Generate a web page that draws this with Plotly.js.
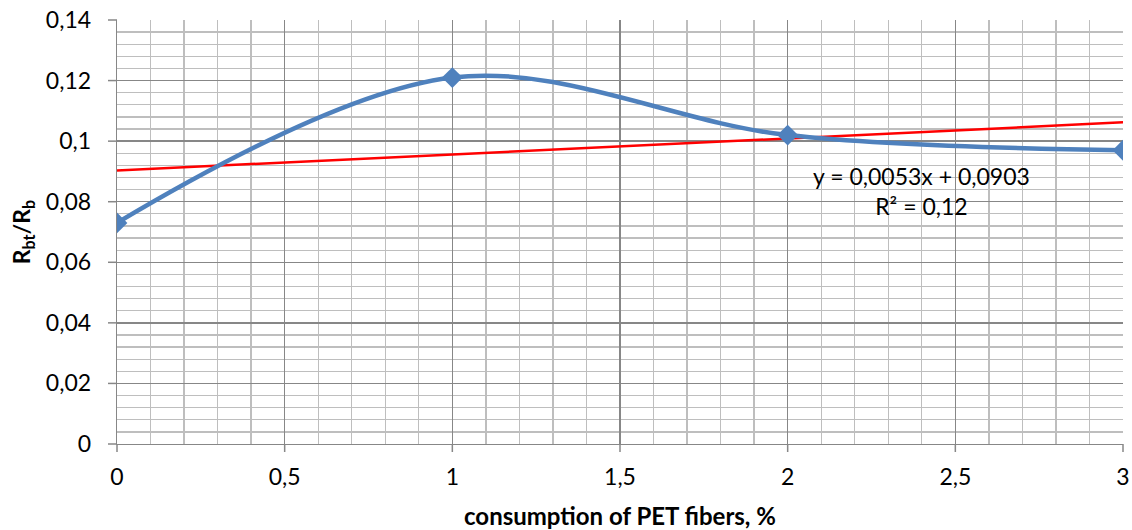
<!DOCTYPE html>
<html>
<head>
<meta charset="utf-8">
<script src="https://cdn.plot.ly/plotly-3.0.1.min.js"></script>
<style>html,body{margin:0;padding:0;background:#fff;}#chart{width:1132px;height:530px;}</style>
</head>
<body>
<div id="chart"></div>
<script>
const fiberPct = [0, 1, 2, 3];
const ratio = [0.073, 0.121, 0.102, 0.097];
const trendX = [0, 3];
const trendY = [0.0903, 0.1062];
const trendLabel = 'y = 0,0053x + 0,0903<br>R² = 0,12';
const xTitle = 'consumption of PET fibers, %';
const yTitle = 'R<sub>bt</sub>/R<sub>b</sub>';
const xTickVals = [0, 0.5, 1, 1.5, 2, 2.5, 3];
const yTickVals = [0, 0.02, 0.04, 0.06, 0.08, 0.1, 0.12, 0.14];

const font = 'Lato, "Open Sans", "Liberation Sans", sans-serif';
const axisGray = '#878787';
const xRange = [0, 3];
const yRange = [0, 0.14];

const traces = [
  {
    x: trendX, y: trendY, mode: 'lines', type: 'scatter',
    line: {color: '#FF0000', width: 2.5}, hoverinfo: 'skip', showlegend: false
  },
  {
    x: fiberPct, y: ratio, mode: 'lines+markers', type: 'scatter',
    line: {color: '#4F81BD', width: 4.5, shape: 'spline', smoothing: 1},
    marker: {symbol: 'diamond', size: 16, color: '#4F81BD'},
    showlegend: false
  }
];

// outside tick marks as paper-referenced shapes (paper refs are not clipped)
const plotW = 1132 - 117 - 9, plotH = 530 - 20 - 86;
const tickShapes = [];
yTickVals.forEach(v => {
  const p = (v - yRange[0]) / (yRange[1] - yRange[0]);
  tickShapes.push({
    type: 'line', xref: 'paper', yref: 'paper',
    x0: -9 / plotW, x1: 0, y0: p, y1: p, line: {color: axisGray, width: 1.5}, layer: 'above'
  });
});
xTickVals.forEach(v => {
  const p = (v - xRange[0]) / (xRange[1] - xRange[0]);
  tickShapes.push({
    type: 'line', xref: 'paper', yref: 'paper',
    y0: -8 / plotH, y1: 0, x0: p, x1: p, line: {color: axisGray, width: 1.5}, layer: 'above'
  });
});

const layout = {
  width: 1132, height: 530,
  margin: {l: 117, r: 9, t: 20, b: 86},
  paper_bgcolor: '#fff', plot_bgcolor: '#fff',
  separators: ', ',
  font: {family: font, color: '#000', size: 23},
  xaxis: {
    range: xRange, tickvals: xTickVals,
    showgrid: true, gridcolor: axisGray, gridwidth: 1.3,
    minor: {dtick: 0.1, tick0: 0, showgrid: true, gridcolor: '#BEBEBE', gridwidth: 1.3},
    ticks: '', ticklabelstandoff: 12,
    showline: true, linecolor: axisGray, linewidth: 1.3, mirror: false,
    zeroline: false,
    tickfont: {family: font, size: 23},
    title: {text: '<b>' + xTitle + '</b>', font: {family: font, size: 24}, standoff: 22}
  },
  yaxis: {
    range: yRange, tickvals: yTickVals,
    showgrid: true, gridcolor: axisGray, gridwidth: 1.3,
    minor: {dtick: 0.004, tick0: 0, showgrid: true, gridcolor: '#BEBEBE', gridwidth: 1.3},
    ticks: '', ticklabelstandoff: 20,
    showline: true, linecolor: axisGray, linewidth: 1.3,
    zeroline: false,
    tickfont: {family: font, size: 23},
    title: {text: '<b>' + yTitle + '</b>', font: {family: font, size: 23}, standoff: 8}
  },
  shapes: tickShapes,
  annotations: [
    {
      x: 2.4, y: 0.0837, xref: 'x', yref: 'y', text: trendLabel,
      showarrow: false, align: 'center', font: {family: font, size: 23, color: '#000'}
    }
  ]
};

Plotly.newPlot('chart', traces, layout, {displayModeBar: false, staticPlot: true});
</script>
</body>
</html>
